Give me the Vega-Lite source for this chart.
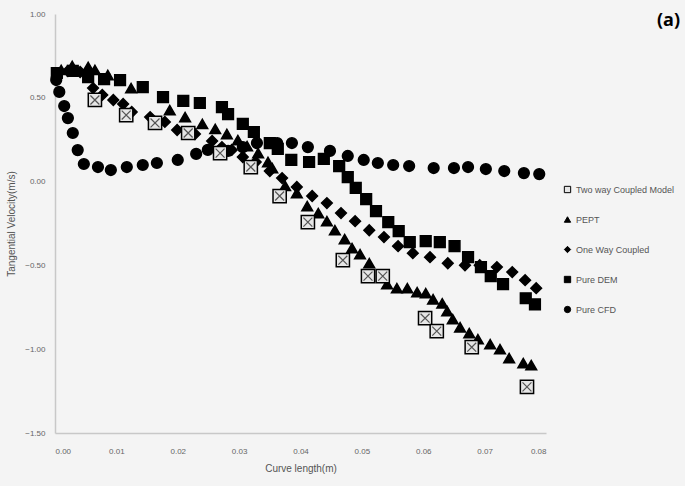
{
  "$schema": "https://vega.github.io/schema/vega-lite/v6.json",
  "autosize": {"type": "none"},
  "padding": {"left": 55, "top": 14, "right": 139, "bottom": 53},
  "width": 491,
  "height": 419,
  "background": "#f4f4f4",
  "config": {"view": {"stroke": null}, "font": "Liberation Sans"},
  "title": {"text": "(a)", "anchor": "end", "frame": "group", "orient": "top", "offset": 0, "baseline": "top", "dx": 134, "dy": 20, "fontSize": 18, "fontWeight": "bold", "color": "#000", "font": "Open Sans"},
  "data": {"values": [
    {"s": "Pure CFD", "x": 0.0002, "y": 0.606}, {"s": "Pure CFD", "x": 0.0007, "y": 0.535}, {"s": "Pure CFD", "x": 0.0015, "y": 0.451}, {"s": "Pure CFD", "x": 0.0021, "y": 0.379}, {"s": "Pure CFD", "x": 0.0029, "y": 0.290}, {"s": "Pure CFD", "x": 0.0037, "y": 0.188}, {"s": "Pure CFD", "x": 0.0047, "y": 0.105}, {"s": "Pure CFD", "x": 0.0070, "y": 0.087}, {"s": "Pure CFD", "x": 0.0091, "y": 0.069}, {"s": "Pure CFD", "x": 0.0117, "y": 0.087}, {"s": "Pure CFD", "x": 0.0143, "y": 0.099}, {"s": "Pure CFD", "x": 0.0166, "y": 0.111}, {"s": "Pure CFD", "x": 0.0200, "y": 0.129}, {"s": "Pure CFD", "x": 0.0230, "y": 0.165}, {"s": "Pure CFD", "x": 0.0249, "y": 0.189}, {"s": "Pure CFD", "x": 0.0282, "y": 0.183}, {"s": "Pure CFD", "x": 0.0306, "y": 0.206}, {"s": "Pure CFD", "x": 0.0329, "y": 0.230}, {"s": "Pure CFD", "x": 0.0362, "y": 0.230}, {"s": "Pure CFD", "x": 0.0386, "y": 0.230}, {"s": "Pure CFD", "x": 0.0412, "y": 0.206}, {"s": "Pure CFD", "x": 0.0448, "y": 0.183}, {"s": "Pure CFD", "x": 0.0477, "y": 0.153}, {"s": "Pure CFD", "x": 0.0503, "y": 0.129}, {"s": "Pure CFD", "x": 0.0526, "y": 0.111}, {"s": "Pure CFD", "x": 0.0551, "y": 0.099}, {"s": "Pure CFD", "x": 0.0577, "y": 0.093}, {"s": "Pure CFD", "x": 0.0617, "y": 0.081}, {"s": "Pure CFD", "x": 0.0650, "y": 0.081}, {"s": "Pure CFD", "x": 0.0673, "y": 0.087}, {"s": "Pure CFD", "x": 0.0702, "y": 0.075}, {"s": "Pure CFD", "x": 0.0732, "y": 0.063}, {"s": "Pure CFD", "x": 0.0764, "y": 0.051}, {"s": "Pure CFD", "x": 0.0789, "y": 0.045},
    {"s": "Pure DEM", "x": 0.0003, "y": 0.648}, {"s": "Pure DEM", "x": 0.0029, "y": 0.660}, {"s": "Pure DEM", "x": 0.0054, "y": 0.624}, {"s": "Pure DEM", "x": 0.0080, "y": 0.612}, {"s": "Pure DEM", "x": 0.0106, "y": 0.606}, {"s": "Pure DEM", "x": 0.0143, "y": 0.564}, {"s": "Pure DEM", "x": 0.0176, "y": 0.504}, {"s": "Pure DEM", "x": 0.0209, "y": 0.481}, {"s": "Pure DEM", "x": 0.0236, "y": 0.469}, {"s": "Pure DEM", "x": 0.0272, "y": 0.445}, {"s": "Pure DEM", "x": 0.0282, "y": 0.403}, {"s": "Pure DEM", "x": 0.0306, "y": 0.344}, {"s": "Pure DEM", "x": 0.0324, "y": 0.296}, {"s": "Pure DEM", "x": 0.0350, "y": 0.230}, {"s": "Pure DEM", "x": 0.0363, "y": 0.195}, {"s": "Pure DEM", "x": 0.0385, "y": 0.129}, {"s": "Pure DEM", "x": 0.0414, "y": 0.117}, {"s": "Pure DEM", "x": 0.0438, "y": 0.135}, {"s": "Pure DEM", "x": 0.0463, "y": 0.093}, {"s": "Pure DEM", "x": 0.0477, "y": 0.027}, {"s": "Pure DEM", "x": 0.0490, "y": -0.038}, {"s": "Pure DEM", "x": 0.0507, "y": -0.104}, {"s": "Pure DEM", "x": 0.0523, "y": -0.176}, {"s": "Pure DEM", "x": 0.0543, "y": -0.242}, {"s": "Pure DEM", "x": 0.0560, "y": -0.296}, {"s": "Pure DEM", "x": 0.0578, "y": -0.361}, {"s": "Pure DEM", "x": 0.0604, "y": -0.355}, {"s": "Pure DEM", "x": 0.0627, "y": -0.361}, {"s": "Pure DEM", "x": 0.0651, "y": -0.385}, {"s": "Pure DEM", "x": 0.0673, "y": -0.451}, {"s": "Pure DEM", "x": 0.0694, "y": -0.510}, {"s": "Pure DEM", "x": 0.0710, "y": -0.564}, {"s": "Pure DEM", "x": 0.0730, "y": -0.612}, {"s": "Pure DEM", "x": 0.0767, "y": -0.696}, {"s": "Pure DEM", "x": 0.0782, "y": -0.732},
    {"s": "PEPT", "x": 0.0010, "y": 0.666}, {"s": "PEPT", "x": 0.0028, "y": 0.690}, {"s": "PEPT", "x": 0.0054, "y": 0.684}, {"s": "PEPT", "x": 0.0065, "y": 0.666}, {"s": "PEPT", "x": 0.0086, "y": 0.636}, {"s": "PEPT", "x": 0.0124, "y": 0.558}, {"s": "PEPT", "x": 0.0187, "y": 0.427}, {"s": "PEPT", "x": 0.0212, "y": 0.385}, {"s": "PEPT", "x": 0.0240, "y": 0.344}, {"s": "PEPT", "x": 0.0261, "y": 0.314}, {"s": "PEPT", "x": 0.0280, "y": 0.284}, {"s": "PEPT", "x": 0.0298, "y": 0.248}, {"s": "PEPT", "x": 0.0313, "y": 0.212}, {"s": "PEPT", "x": 0.0331, "y": 0.170}, {"s": "PEPT", "x": 0.0347, "y": 0.117}, {"s": "PEPT", "x": 0.0354, "y": 0.081}, {"s": "PEPT", "x": 0.0375, "y": -0.026}, {"s": "PEPT", "x": 0.0394, "y": -0.068}, {"s": "PEPT", "x": 0.0411, "y": -0.146}, {"s": "PEPT", "x": 0.0429, "y": -0.188}, {"s": "PEPT", "x": 0.0443, "y": -0.236}, {"s": "PEPT", "x": 0.0456, "y": -0.290}, {"s": "PEPT", "x": 0.0472, "y": -0.343}, {"s": "PEPT", "x": 0.0484, "y": -0.397}, {"s": "PEPT", "x": 0.0497, "y": -0.433}, {"s": "PEPT", "x": 0.0512, "y": -0.487}, {"s": "PEPT", "x": 0.0541, "y": -0.612}, {"s": "PEPT", "x": 0.0557, "y": -0.636}, {"s": "PEPT", "x": 0.0574, "y": -0.636}, {"s": "PEPT", "x": 0.0590, "y": -0.660}, {"s": "PEPT", "x": 0.0604, "y": -0.666}, {"s": "PEPT", "x": 0.0616, "y": -0.702}, {"s": "PEPT", "x": 0.0631, "y": -0.726}, {"s": "PEPT", "x": 0.0639, "y": -0.773}, {"s": "PEPT", "x": 0.0648, "y": -0.821}, {"s": "PEPT", "x": 0.0660, "y": -0.869}, {"s": "PEPT", "x": 0.0675, "y": -0.904}, {"s": "PEPT", "x": 0.0689, "y": -0.940}, {"s": "PEPT", "x": 0.0709, "y": -0.970}, {"s": "PEPT", "x": 0.0725, "y": -1.000}, {"s": "PEPT", "x": 0.0740, "y": -1.053}, {"s": "PEPT", "x": 0.0763, "y": -1.083}, {"s": "PEPT", "x": 0.0776, "y": -1.095},
    {"s": "One Way Coupled", "x": 0.0003, "y": 0.624}, {"s": "One Way Coupled", "x": 0.0021, "y": 0.660}, {"s": "One Way Coupled", "x": 0.0041, "y": 0.654}, {"s": "One Way Coupled", "x": 0.0062, "y": 0.558}, {"s": "One Way Coupled", "x": 0.0077, "y": 0.517}, {"s": "One Way Coupled", "x": 0.0095, "y": 0.487}, {"s": "One Way Coupled", "x": 0.0111, "y": 0.463}, {"s": "One Way Coupled", "x": 0.0125, "y": 0.415}, {"s": "One Way Coupled", "x": 0.0155, "y": 0.385}, {"s": "One Way Coupled", "x": 0.0179, "y": 0.356}, {"s": "One Way Coupled", "x": 0.0199, "y": 0.308}, {"s": "One Way Coupled", "x": 0.0228, "y": 0.284}, {"s": "One Way Coupled", "x": 0.0256, "y": 0.242}, {"s": "One Way Coupled", "x": 0.0272, "y": 0.206}, {"s": "One Way Coupled", "x": 0.0288, "y": 0.189}, {"s": "One Way Coupled", "x": 0.0306, "y": 0.147}, {"s": "One Way Coupled", "x": 0.0327, "y": 0.117}, {"s": "One Way Coupled", "x": 0.0350, "y": 0.063}, {"s": "One Way Coupled", "x": 0.0370, "y": 0.021}, {"s": "One Way Coupled", "x": 0.0394, "y": -0.032}, {"s": "One Way Coupled", "x": 0.0419, "y": -0.086}, {"s": "One Way Coupled", "x": 0.0443, "y": -0.128}, {"s": "One Way Coupled", "x": 0.0466, "y": -0.188}, {"s": "One Way Coupled", "x": 0.0489, "y": -0.236}, {"s": "One Way Coupled", "x": 0.0512, "y": -0.290}, {"s": "One Way Coupled", "x": 0.0536, "y": -0.331}, {"s": "One Way Coupled", "x": 0.0559, "y": -0.385}, {"s": "One Way Coupled", "x": 0.0583, "y": -0.427}, {"s": "One Way Coupled", "x": 0.0611, "y": -0.451}, {"s": "One Way Coupled", "x": 0.0640, "y": -0.487}, {"s": "One Way Coupled", "x": 0.0668, "y": -0.499}, {"s": "One Way Coupled", "x": 0.0692, "y": -0.499}, {"s": "One Way Coupled", "x": 0.0720, "y": -0.510}, {"s": "One Way Coupled", "x": 0.0745, "y": -0.540}, {"s": "One Way Coupled", "x": 0.0766, "y": -0.588}, {"s": "One Way Coupled", "x": 0.0784, "y": -0.636},
    {"s": "Two way Coupled Model", "x": 0.0065, "y": 0.487}, {"s": "Two way Coupled Model", "x": 0.0116, "y": 0.397}, {"s": "Two way Coupled Model", "x": 0.0163, "y": 0.350}, {"s": "Two way Coupled Model", "x": 0.0217, "y": 0.290}, {"s": "Two way Coupled Model", "x": 0.0269, "y": 0.170}, {"s": "Two way Coupled Model", "x": 0.0319, "y": 0.087}, {"s": "Two way Coupled Model", "x": 0.0366, "y": -0.086}, {"s": "Two way Coupled Model", "x": 0.0412, "y": -0.242}, {"s": "Two way Coupled Model", "x": 0.0469, "y": -0.469}, {"s": "Two way Coupled Model", "x": 0.0510, "y": -0.564}, {"s": "Two way Coupled Model", "x": 0.0534, "y": -0.564}, {"s": "Two way Coupled Model", "x": 0.0603, "y": -0.815}, {"s": "Two way Coupled Model", "x": 0.0622, "y": -0.892}, {"s": "Two way Coupled Model", "x": 0.0679, "y": -0.988}, {"s": "Two way Coupled Model", "x": 0.0769, "y": -1.225}
  ]},
  "encoding": {
    "x": {"field": "x", "type": "quantitative", "scale": {"domain": [0, 0.08], "nice": false, "zero": false},
      "axis": {"values": [0, 0.01, 0.02, 0.03, 0.04, 0.05, 0.06, 0.07, 0.08], "format": ".2f", "title": "Curve length(m)", "grid": false, "ticks": false, "domainColor": "#c8c8c8", "domainWidth": 1.5, "labelFontSize": 8, "labelColor": "#666", "labelPadding": 14, "titleFontSize": 10, "titleColor": "#555", "titleFontWeight": "normal", "titlePadding": 8}},
    "y": {"field": "y", "type": "quantitative", "scale": {"domain": [-1.5, 1.0], "nice": false, "zero": false},
      "axis": {"values": [-1.5, -1, -0.5, 0, 0.5, 1], "format": ".2f", "title": "Tangential Velocity(m/s)", "grid": false, "ticks": false, "domainColor": "#c8c8c8", "domainWidth": 1.5, "labelFontSize": 8, "labelColor": "#666", "labelPadding": 10, "titleFontSize": 10, "titleColor": "#555", "titleFontWeight": "normal", "titlePadding": 8}}
  },
  "layer": [
    {
      "mark": {"type": "point", "filled": true, "stroke": "black", "strokeWidth": 1.5, "opacity": 1},
      "encoding": {
        "shape": {"field": "s", "type": "nominal",
          "scale": {"domain": ["Two way Coupled Model", "PEPT", "One Way Coupled", "Pure DEM", "Pure CFD"], "range": ["square", "triangle-up", "diamond", "square", "circle"]},
          "legend": {"title": null, "orient": "none", "legendX": 508, "legendY": 171, "symbolSize": 40, "symbolStrokeWidth": 1, "labelFontSize": 9, "labelColor": "#555", "rowPadding": 19, "labelOffset": 4}},
        "color": {"field": "s", "type": "nominal",
          "scale": {"domain": ["Two way Coupled Model", "PEPT", "One Way Coupled", "Pure DEM", "Pure CFD"], "range": ["#e6e6e6", "#000000", "#000000", "#000000", "#000000"]},
          "legend": {"title": null, "orient": "none", "legendX": 508, "legendY": 171, "symbolSize": 40, "symbolStrokeWidth": 1, "labelFontSize": 9, "labelColor": "#555", "rowPadding": 19, "labelOffset": 4}},
        "size": {"condition": {"test": "datum.s === 'Two way Coupled Model'", "value": 175}, "value": 115}
      }
    },
    {
      "transform": [{"filter": "datum.s === 'Two way Coupled Model'"}],
      "mark": {"type": "point", "filled": false, "shape": "M-1,-1L1,1M-1,1L1,-1", "stroke": "#555", "strokeWidth": 1.2, "size": 80, "opacity": 1},
      "encoding": {}
    }
  ]
}
